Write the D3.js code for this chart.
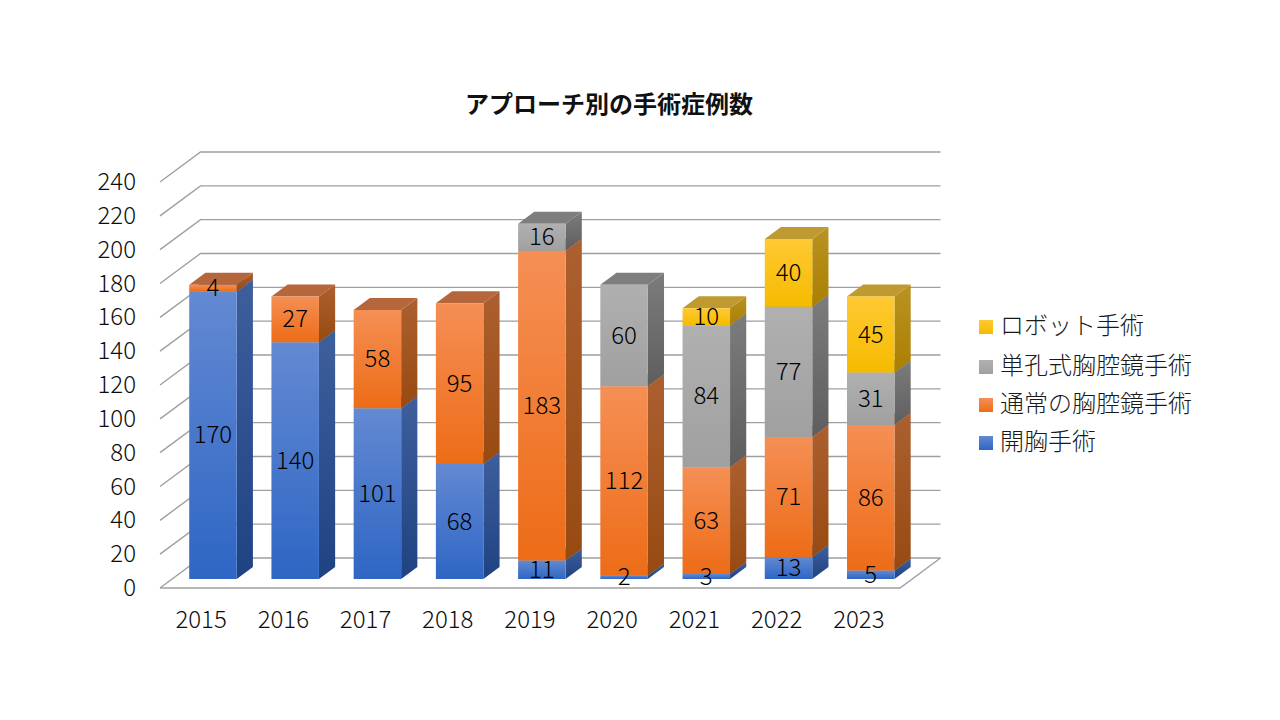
<!DOCTYPE html>
<html><head><meta charset="utf-8">
<script src="https://cdn.jsdelivr.net/npm/d3@7"></script>
<style>html,body{margin:0;background:#fff}svg{display:block}text{font-family:"Noto Sans CJK JP","Noto Sans",sans-serif}.lt{font-weight:300}</style>
</head><body><script>
const years=["2015","2016","2017","2018","2019","2020","2021","2022","2023"];
const seriesNames=["開胸手術","通常の胸腔鏡手術","単孔式胸腔鏡手術","ロボット手術"];
const openSurgery=[170,140,101,68,11,2,3,13,5];
const normalVats=[4,27,58,95,183,112,63,71,86];
const singlePortVats=[0,0,0,0,16,60,84,77,31];
const robotic=[0,0,0,0,0,0,10,40,45];
const yTicks=d3.range(0,241,20);
const frontLight=["#6389d2","#f58f55","#b0b0b0","#ffc933"];
const frontDark=["#2e66c4","#ed6c17","#a0a0a0","#f5bb00"];
const sideLight=["#3e5f9c","#ac6030","#7c7c7c","#b99222"];
const sideDark=["#1f4282","#974a10","#5e5e5e","#aa8000"];
const topColor=["#47689f","#b5663b","#7e7e7e","#bf9a30"];

const svg=d3.select("body").append("svg").attr("width",1280).attr("height",720);
const defs=svg.append("defs");
seriesNames.forEach((_,i)=>{
  [["f",frontLight,frontDark],["s",sideLight,sideDark]].forEach(([p,a,b])=>{
    const g=defs.append("linearGradient").attr("id",p+i).attr("x1",0).attr("x2",0).attr("y1",0).attr("y2",1);
    g.append("stop").attr("offset",0).attr("stop-color",a[i]);
    g.append("stop").attr("offset",1).attr("stop-color",b[i]);
  });
});

// Projection: the front plane of the box, pushed back by depth z in 0..1
const x=d3.scaleBand().domain(years).range([160,900]);
const y=d3.scaleLinear().domain([0,240]).range([588,182]);
const DX=40.5,DY=30;
const P=(px,v,z)=>[px+z*DX,y(v)-z*DY];
const poly=pts=>"M"+pts.map(p=>p.join(",")).join("L")+"Z";

const grid=svg.append("g").attr("fill","none").attr("stroke","#9f9f9f").attr("stroke-width",1.4);
yTicks.forEach(t=>{
  grid.append("path").attr("d",d3.line()([P(160,t,0),P(160,t,1),P(900,t,1)]));
});
grid.append("path").attr("d",d3.line()([P(160,0,0),P(900,0,0),P(900,0,1)]));

const axisG=svg.append("g").attr("class","lt").attr("font-size",24).attr("fill","#0d0d0d");
axisG.selectAll("text.y").data(yTicks).join("text").attr("class","y")
  .attr("x",136).attr("y",t=>y(t)-0.5).attr("dy","0.36em").attr("text-anchor","end").text(t=>t);
axisG.selectAll("text.x").data(years).join("text").attr("class","x")
  .attr("x",d=>x(d)+x.bandwidth()/2).attr("y",619).attr("dy","0.36em").attr("text-anchor","middle").text(d=>d);

const rows=years.map((yr,i)=>({year:yr,s0:openSurgery[i],s1:normalVats[i],s2:singlePortVats[i],s3:robotic[i]}));
const stacked=d3.stack().keys(["s0","s1","s2","s3"])(rows);
const Z0=0.3,Z1=0.7,W=47.5;
const bars=svg.append("g");
const labels=svg.append("g").attr("class","lt").attr("font-size",24).attr("fill","#000").attr("text-anchor","middle");
years.forEach((yr,j)=>{
  const left=x(yr)+x.bandwidth()/2-W/2-0.3;
  stacked.forEach((s,i)=>{
    const [a,b]=s[j]; if(b===a) return;
    const r=left+W;
    bars.append("path").attr("fill",`url(#s${i})`).attr("d",poly([P(r,a,Z0),P(r,b,Z0),P(r,b,Z1),P(r,a,Z1)]));
    bars.append("path").attr("fill",topColor[i]).attr("d",poly([P(left,b,Z0),P(r,b,Z0),P(r,b,Z1),P(left,b,Z1)]));
    bars.append("path").attr("fill",`url(#f${i})`).attr("d",poly([P(left,a,Z0),P(r,a,Z0),P(r,b,Z0),P(left,b,Z0)]));
    const c=P(left+W/2,(a+b)/2,Z0);
    labels.append("text").attr("x",c[0]).attr("y",c[1]-0.5).attr("dy","0.36em").text(b-a);
  });
});
svg.append("text").attr("x",609).attr("y",104).attr("dy","0.36em").attr("text-anchor","middle")
  .attr("font-size",24).attr("font-weight",700).attr("fill","#111").text("アプローチ別の手術症例数");

const legY=[441,403,365,325];
const leg=svg.append("g");
seriesNames.forEach((n,i)=>{
  leg.append("rect").attr("x",979).attr("y",legY[i]-5).attr("width",14).attr("height",14).attr("fill",`url(#f${i})`);
  leg.append("text").attr("class","lt").attr("x",1000).attr("y",legY[i]).attr("dy","0.36em").attr("font-size",24).attr("fill","#1a1a1a").text(n);
});
</script></body></html>
